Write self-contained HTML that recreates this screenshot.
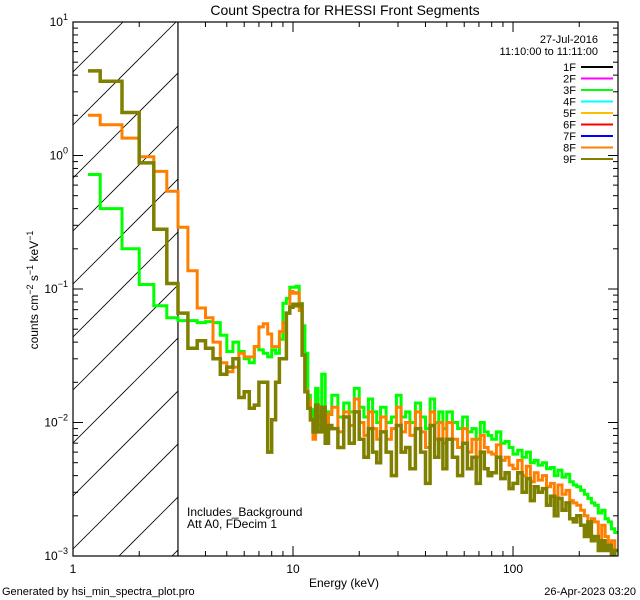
<!DOCTYPE html>
<html><head><meta charset="utf-8"><style>
html,body{margin:0;padding:0;background:#fff;width:640px;height:600px;overflow:hidden;}
svg{display:block;font-family:"Liberation Sans",sans-serif;overflow:hidden;}
</style></head><body>
<svg id="chart" width="640" height="600" viewBox="0 0 640 600" xmlns="http://www.w3.org/2000/svg">
<rect x="0" y="0" width="640" height="600" fill="#fff"/>
<text x="345" y="15" font-size="14" text-anchor="middle">Count Spectra for RHESSI Front Segments</text>
<g id="plot"></g>
<text x="344" y="587" font-size="12" text-anchor="middle">Energy (keV)</text>
<text transform="translate(38,290) rotate(-90)" font-size="12" text-anchor="middle">counts cm<tspan dy="-5" font-size="9">−2</tspan><tspan dy="5"> s</tspan><tspan dy="-5" font-size="9">−1</tspan><tspan dy="5"> keV</tspan><tspan dy="-5" font-size="9">−1</tspan></text>
<text x="187" y="516" font-size="12">Includes_Background</text>
<text x="187" y="528" font-size="12">Att A0, FDecim 1</text>
<text x="2" y="595" font-size="11">Generated by hsi_min_spectra_plot.pro</text>
<text x="636" y="595" font-size="11" text-anchor="end">26-Apr-2023 03:20</text>
<text x="598" y="43" font-size="11" text-anchor="end">27-Jul-2016</text>
<text x="598" y="55" font-size="11" text-anchor="end">11:10:00 to 11:11:00</text>
<g id="legend"></g>
</svg>
<script>
const edges=[1.17,1.33,1.67,2.0,2.33,2.67,3.0,3.33,3.67,4.0,4.33,4.67,5.0,5.33,5.67,6.0,6.33,6.67,7.0,7.33,7.67,8.0,8.33,8.67,9.0,9.33,9.67,10.0,10.33,10.67,11.0,11.33,11.67,12.0,12.33,12.67,13.0,13.5,14,14.5,15,
16,17,18,19,20,21,22,23,24,25,26.5,28,29.5,31,32.5,34,36,38,40,42,44,46,48,50,53,56,59,62,65,68,71,74,77,80,84,88,92,96,100,105,110,115,120,125,130,136,142,148,154,160,167,174,181,188,195,203,211,219,227,235,244,253,262,271,280,290,300];
const green3F=[0.72,0.40,0.20,0.108,0.075,0.061,0.058,0.058,0.056,0.057,0.056,0.045,0.034,0.040,0.034,0.030,0.028,0.037,0.035,0.033,0.031,0.035,0.033,0.042,0.078,0.085,0.103,0.103,0.105,0.078,0.053,0.033,0.016,0.0125,0.010,0.018,0.011,0.023,0.012,0.0115,
.016,.011,.014,.012,.018,.013,.011,.015,.012,.010,
.013,.010,.011,.016,.011,.012,
.010,.014,.011,.009,.015,.010,.012,.009,
.012,.010,.009,.011,.0085,.009,.0075,.010,.0085,.008,
.0075,.0085,.007,.0072,.0065,
.0058,.0062,.0055,.0060,.0050,.0052,
.0048,.0050,.0045,.0046,.0040,
.0044,.0039,.0041,.0036,.0034,
.0033,.0031,.0029,.0027,.0025,
.0024,.0021,.0022,.0019,.0018,
.0016,.0015];
const orange8F=[2.0,1.7,1.35,0.98,0.76,0.54,0.29,0.137,0.072,0.061,0.040,0.028,0.024,0.026,0.033,0.031,0.031,0.037,0.052,0.055,0.046,0.037,0.037,0.048,0.056,0.066,0.096,0.093,0.094,0.069,0.032,0.0175,0.0147,0.0104,0.0075,0.012,0.0095,0.0125,0.0075,0.0115,
.013,.0085,.012,.0095,.015,.010,.008,.012,.009,.0075,
.011,.0075,.009,.013,.0085,.010,
.008,.012,.0085,.0065,.012,.0075,.010,.007,
.010,.0075,.0065,.009,.006,.0075,.0055,.008,.0065,.006,
.0058,.0068,.0052,.0055,.0048,
.0045,.0052,.0040,.0047,.0036,.0042,
.0037,.0040,.0033,.0035,.0028,
.0034,.0029,.0031,.0026,.0025,
.0024,.0022,.0020,.0016,.0019,
.0018,.0012,.0017,.0014,.0012,
.0013,.0011];
const olive9F=[4.3,3.6,2.1,0.88,0.28,0.11,0.066,0.036,0.041,0.036,0.030,0.023,0.026,0.030,0.0154,0.017,0.0128,0.0135,0.020,0.020,0.006,0.0105,0.020,0.030,0.030,0.066,0.073,0.077,0.075,0.077,0.032,0.017,0.0128,0.0105,0.0085,0.0135,0.0085,0.013,0.007,0.0095,
.009,.0065,.011,.007,.012,.0075,.0055,.009,.006,.005,
.0085,.006,.004,.0095,.006,.0065,
.0045,.009,.006,.0035,.0095,.0055,.0075,.0045,
.0075,.0055,.004,.007,.0045,.0055,.0035,.006,.0045,.004,
.0042,.0055,.0038,.0042,.0032,
.0035,.0042,.0030,.0038,.0026,.0033,
.0030,.0032,.0024,.0028,.0020,
.0027,.0022,.0025,.0019,.0018,
.0020,.0017,.0014,.0018,.0013,
.0014,.0011,.0013,.0011,.0012,
.0010,.0011];
const xTickLabels=["1","10","100"];
const yTickExps=["1","0","−1","−2","−3"];
const legendLabels=["1F","2F","3F","4F","5F","6F","7F","8F","9F"];
const legendColors=["#000000","#ff00ff","#00ff00","#00ffff","#ffbf00","#ff0000","#0000ff","#ff7f00","#7f7f00"];

const NS="http://www.w3.org/2000/svg";
const L=73,R=618,T=22,B=556;
const xMin=1,xMax=300,yMin=1e-3,yMax=10;
const X=e=>L+(Math.log10(e)-Math.log10(xMin))/(Math.log10(xMax)-Math.log10(xMin))*(R-L);
const Y=v=>B-(Math.log10(v)-Math.log10(yMin))/(Math.log10(yMax)-Math.log10(yMin))*(B-T);
const plot=document.getElementById('plot');
function mk(tag,attrs,parent){const el=document.createElementNS(NS,tag);for(const k in attrs)el.setAttribute(k,attrs[k]);(parent||plot).appendChild(el);return el;}

const defs=mk('defs',{});
const cp=mk('clipPath',{id:'clip'},defs);
mk('rect',{x:L,y:T,width:R-L,height:B-T},cp);
const hp=mk('clipPath',{id:'hclip'},defs);
mk('rect',{x:L,y:T,width:X(3)-L,height:B-T},hp);

const hatch=mk('g',{'clip-path':'url(#hclip)'});


for(let c=T-120;c<B+120;c+=53){
  const ln=mk('line',{x1:L,y1:c+64,x2:L+120,y2:c+64-120,stroke:'#000','stroke-width':0.8},hatch);
  
  
}
const vl=mk('line',{x1:X(3),y1:T,x2:X(3),y2:B,stroke:'#000','stroke-width':1.2});



function stepPath(vals){
  let d='';
  for(let i=0;i<vals.length;i++){
    const x0=X(edges[i]),x1=X(edges[i+1]),y=Y(vals[i]);
    d+=(i===0?'M':'L')+x0.toFixed(1)+','+y.toFixed(1)+'L'+x1.toFixed(1)+','+y.toFixed(1);
  }
  return d;
}
const sg=mk('g',{'clip-path':'url(#clip)'});


[[green3F,'#00ff00',3,'series-3f'],[orange8F,'#ff7f00',3,'series-8f'],[olive9F,'#7f7f00',3.5,'series-9f']].forEach(s=>{
  const p=mk('path',{d:stepPath(s[0]),fill:'none',stroke:s[1],'stroke-width':s[2],'stroke-linejoin':'miter'},sg);
  
  
});

const box=mk('rect',{x:L,y:T,width:R-L,height:B-T,fill:'none',stroke:'#000','stroke-width':1.2});



for(let dec=1;dec<=100;dec*=10){
  for(let m=1;m<=9;m++){
    const e=dec*m; if(e>xMax)break;
    const x=X(e),len=m===1?10:5;
    mk('line',{x1:x,y1:B,x2:x,y2:B-len,stroke:'#000','stroke-width':1});
    mk('line',{x1:x,y1:T,x2:x,y2:T+len,stroke:'#000','stroke-width':1});
  }
}
xTickLabels.forEach((t,i)=>{
  const tx=mk('text',{x:X(Math.pow(10,i)),y:B+17,'font-size':12,'text-anchor':'middle'});
  tx.textContent=t;
  
  
});
for(let p=-3;p<1;p++){
  for(let m=1;m<=9;m++){
    const v=Math.pow(10,p)*m,y=Y(v),len=m===1?10:5;
    mk('line',{x1:L,y1:y,x2:L+len,y2:y,stroke:'#000','stroke-width':1});
    mk('line',{x1:R,y1:y,x2:R-len,y2:y,stroke:'#000','stroke-width':1});
  }
}
yTickExps.forEach((ex,i)=>{
  const y=Y(Math.pow(10,1-i));
  const tx=mk('text',{x:L-5,y:y+4,'font-size':12,'text-anchor':'end'});
  tx.innerHTML='10<tspan dy="-6" font-size="9">'+ex+'</tspan>';
  
  
});

const lg=document.getElementById('legend');
legendLabels.forEach((lab,i)=>{
  const y=67+i*11.5;
  const t=mk('text',{x:576,y:y+4,'font-size':11,'text-anchor':'end'},lg);
  t.textContent=lab;
  
  
  const l=mk('line',{x1:581,y1:y,x2:613,y2:y,stroke:legendColors[i],'stroke-width':2},lg);
  
  
});
</script>
</body></html>
